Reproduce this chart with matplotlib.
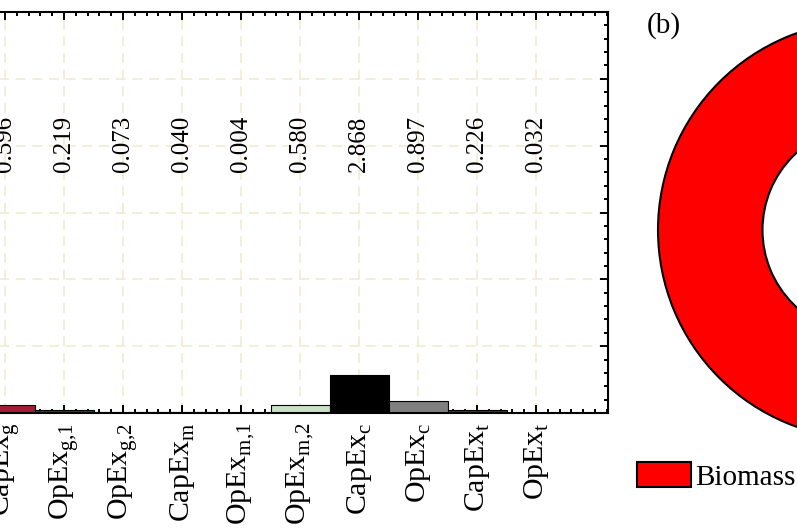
import matplotlib
matplotlib.use('Agg')
import matplotlib.pyplot as plt
from matplotlib.ticker import MultipleLocator, FixedLocator
from matplotlib.patches import Patch

plt.rcParams['font.family'] = ['Liberation Serif', 'DejaVu Serif']
plt.rcParams['mathtext.fontset'] = 'custom'
plt.rcParams['mathtext.rm'] = 'Liberation Serif'

# cost items (panel a), values in the same unit as the bar labels
items = ['CapEx$_{\\mathrm{g}}$', 'OpEx$_{\\mathrm{g{,}1}}$', 'OpEx$_{\\mathrm{g{,}2}}$',
         'CapEx$_{\\mathrm{m}}$', 'OpEx$_{\\mathrm{m{,}1}}$', 'OpEx$_{\\mathrm{m{,}2}}$',
         'CapEx$_{\\mathrm{c}}$', 'OpEx$_{\\mathrm{c}}$', 'CapEx$_{\\mathrm{t}}$',
         'OpEx$_{\\mathrm{t}}$']
costs = [0.596, 0.219, 0.073, 0.040, 0.004, 0.580, 2.868, 0.897, 0.226, 0.032]
bar_colors = ['#a31d35', '#8b1a2b', '#c04050', '#2e7d32', '#66bb6a',
              '#c8e2c6', '#000000', '#808080', '#5a2a2a', '#aaaaaa']

# share of total (panel b)
sources = ['Biomass']
shares = [100.0]
source_colors = ['#ff0000']

W, H = 797, 532
fig = plt.figure(figsize=(W / 100, H / 100), dpi=100)

# panel (a) - left part runs off the canvas like in the reference crop
x_lo, x_hi = -0.8, 10.22
px_unit = 59.0
left_px = 5 - (0 - x_lo) * px_unit
right_px = 608
top_px, bot_px = 12, 413
ax = fig.add_axes([left_px / W, (H - bot_px) / H,
                   (right_px - left_px) / W, (bot_px - top_px) / H])

pos = list(range(len(items)))
ax.bar(pos, costs, width=1.0, color=bar_colors, edgecolor='black', linewidth=0.8)
for x, v in zip(pos, costs):
    ax.text(x, 18, '%.3f' % v, rotation=90, ha='center', va='bottom', fontsize=18)

ax.set_xlim(x_lo, x_hi)
ax.set_ylim(0, 30)
ax.xaxis.set_major_locator(FixedLocator(pos))
ax.set_xticklabels(items, rotation=90, fontsize=21.5)
ax.xaxis.set_minor_locator(MultipleLocator(0.2))
ax.yaxis.set_major_locator(MultipleLocator(5))
ax.yaxis.set_minor_locator(MultipleLocator(1))
ax.tick_params(which='both', direction='in', top=True, right=True, width=1.4)
ax.tick_params(which='major', length=6)
ax.tick_params(which='minor', length=3.2)
ax.tick_params(axis='x', which='major', pad=7)
ax.tick_params(axis='y', labelsize=18)
for sp in ax.spines.values():
    sp.set_linewidth(1.5)
ax.set_axisbelow(True)
ax.grid(True, which='major', color='#f2ead2', linestyle=(0, (6, 4)), linewidth=1.2)

# panel (b) donut
cx, cy, r = 867, 230, 209
ax2 = fig.add_axes([(cx - r) / W, (H - cy - r) / H, 2 * r / W, 2 * r / H])
ax2.pie(shares, colors=source_colors, radius=1.0, startangle=90,
        wedgeprops=dict(width=0.5, edgecolor='black', linewidth=1.5))
ax2.set_xlim(-1, 1)
ax2.set_ylim(-1, 1)
ax2.axis('off')

fig.text(647 / W, 1 - 12 / H, '(b)', fontsize=21, ha='left', va='top')

handles = [Patch(facecolor=c, edgecolor='black', linewidth=1.5) for c in source_colors]
fig.legend(handles, sources, loc='upper left', bbox_to_anchor=(637 / W, 1 - 462 / H),
           frameon=False, fontsize=21, handlelength=1.85, handleheight=0.95,
           handletextpad=0.15, borderpad=0, borderaxespad=0)

fig.savefig('out.png', dpi=100)
